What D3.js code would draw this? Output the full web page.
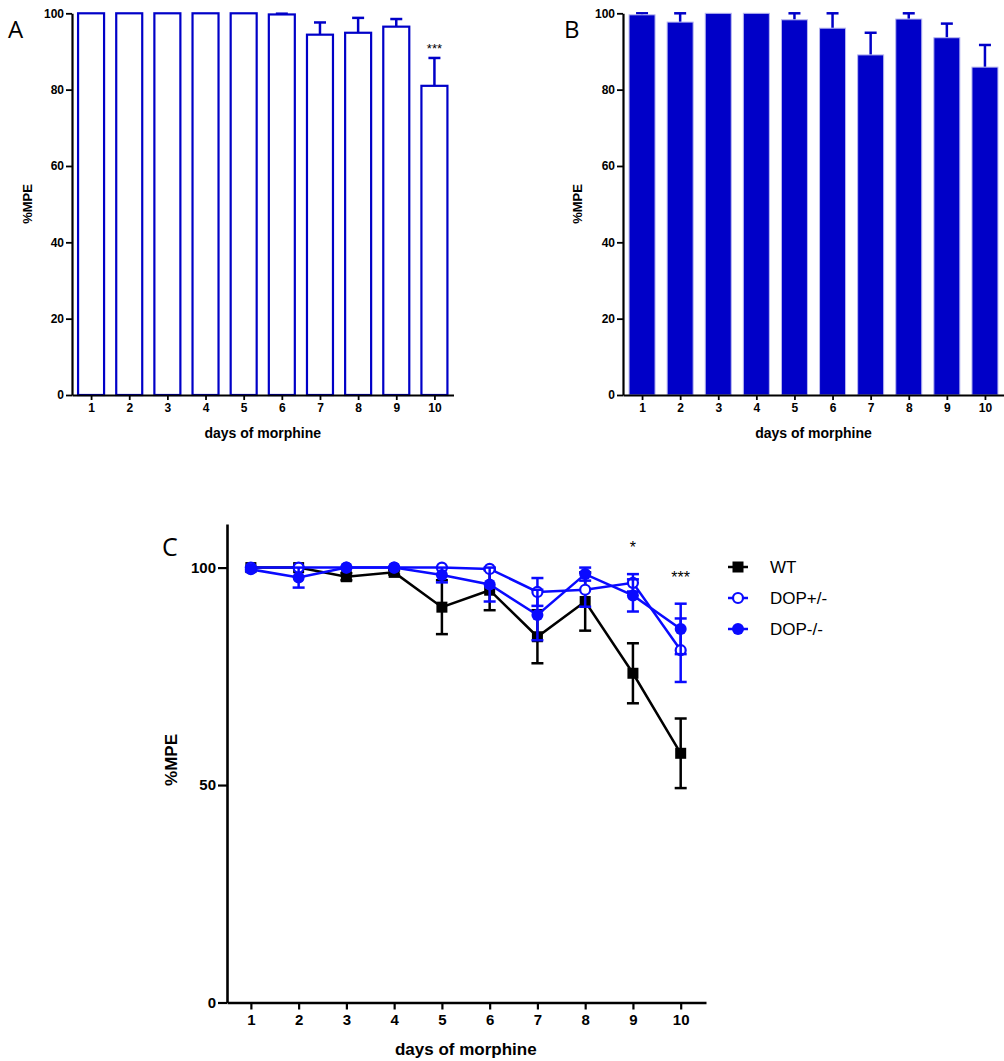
<!DOCTYPE html>
<meta charset="utf-8">

<script src="https://d3js.org/d3.v7.min.js"></script>

<style type="text/css">

body { margin:0; background:#fff; }
svg text { font-family: "Liberation Sans", Arial, sans-serif; }
.axis path, .axis line { stroke:#000; }
.axis text { font-weight:bold; fill:#000; }

</style>

<body>
</body>

<script>

// days and %MPE values (mean, SEM)
var days = [1,2,3,4,5,6,7,8,9,10];
var wtMean   = [100,100,97.9,98.9,90.9,94.8,84.1,92.2,75.7,57.3];
var wtSem    = [0,0,0.8,0.5,6.2,4.6,6.1,6.7,6.9,8.0];
var hetMean  = [100,100,100,100,100,99.7,94.4,94.9,96.5,81.0];   // DOP+/-
var hetSem   = [0,0,0,0,0,0.2,3.2,3.9,2.0,7.3];
var koMean   = [99.6,97.7,100,100,98.3,96.1,89.1,98.5,93.6,85.9]; // DOP-/-
var koSem    = [0.4,2.3,0,0,1.7,3.9,5.8,1.5,3.7,5.8];
var barTicks = [0,20,40,60,80,100];
var lineTicks = [0,50,100];

var barBlue = '#0000c8';
var lineBlue = '#0a0aff';

var svg = d3.select('body').append('svg')
  .attr('width',1004)
  .attr('height',1061);

function rows(mean, sem) {
  return days.map(function(d,i){ return {day:d, v:mean[i], e:sem[i]}; });
}

//bar panels A and B
function barPanel(x0, x1, mean, sem, filled, label, labelX, axisLabelX) {
  var x = d3.scaleLinear().domain([0.5,10.5]).range([x0,x1]);
  var y = d3.scaleLinear().domain([0,100]).range([395,13.3]);
  var g = svg.append('g');
  var data = rows(mean, sem);
  var bw = 26;

  // error bars (up only)
  var eb = g.selectAll('.eb').data(data.filter(function(d){return d.e>0;}))
    .enter().append('g');
  eb.append('line')
    .attr('x1',function(d){return x(d.day);}).attr('x2',function(d){return x(d.day);})
    .attr('y1',function(d){return y(d.v);}).attr('y2',function(d){return y(d.v+d.e);})
    .attr('stroke',barBlue).attr('stroke-width',2.5);
  eb.append('line')
    .attr('x1',function(d){return x(d.day)-6;}).attr('x2',function(d){return x(d.day)+6;})
    .attr('y1',function(d){return y(d.v+d.e);}).attr('y2',function(d){return y(d.v+d.e);})
    .attr('stroke',barBlue).attr('stroke-width',2.5);

  g.selectAll('.bar').data(data)
    .enter().append('rect')
    .attr('x',function(d){return x(d.day)-bw/2;})
    .attr('width',bw)
    .attr('y',function(d){return y(d.v);})
    .attr('height',function(d){return y(0)-y(d.v);})
    .attr('fill',filled ? barBlue : '#fff')
    .attr('stroke',filled ? '#b8b8f0' : barBlue)
    .attr('stroke-width',filled ? 1 : 2.2);

  g.append('g').attr('class','axis')
    .attr('transform','translate(0,395)')
    .call(d3.axisBottom(x).tickValues(days).tickSize(5).tickSizeOuter(0).tickPadding(3))
    .call(function(a){ a.selectAll('text').style('font-size','12px'); a.select('.domain').attr('stroke-width',2.2); a.selectAll('line').attr('stroke-width',1.8); });

  g.append('g').attr('class','axis')
    .attr('transform','translate('+x0+',0)')
    .call(d3.axisLeft(y).tickValues(barTicks).tickSize(6).tickSizeOuter(0).tickPadding(2))
    .call(function(a){ a.selectAll('text').style('font-size','12px'); a.select('.domain').attr('stroke-width',2.2); a.selectAll('line').attr('stroke-width',1.8); });

  g.append('text').text('days of morphine')
    .attr('x',(x(1)+x(10))/2).attr('y',438)
    .attr('text-anchor','middle').style('font-size','14px').style('font-weight','bold');

  g.append('text').text('%MPE')
    .attr('transform','translate('+(axisLabelX)+',204) rotate(-90)')
    .attr('text-anchor','middle').style('font-size','13px').style('font-weight','bold');

  g.append('text').text(label)
    .attr('x',labelX).attr('y',38).style('font-family','"Open Sans", sans-serif').style('font-size','24px');

  return {g:g, x:x, y:y};
}

var A = barPanel(72, 453.5, hetMean, hetSem, false, 'A', 8, 32);
A.g.append('text').text('***')
  .attr('x',A.x(10)).attr('y',A.y(89.5))
  .attr('text-anchor','middle').style('font-size','13px');

barPanel(623, 1004, koMean, koSem, true, 'B', 564, 582);

//line panel C
var xC = d3.scaleLinear().domain([0.5,10.53]).range([227,706]);
var yC = d3.scaleLinear().domain([0,110]).range([1002.5,524.1]);
var gC = svg.append('g');

gC.append('g').attr('class','axis')
  .attr('transform','translate(0,1002.5)')
  .call(d3.axisBottom(xC).tickValues(days).tickSize(7).tickSizeOuter(0).tickPadding(5))
  .call(function(a){ a.selectAll('text').style('font-size','15px'); a.select('.domain').attr('stroke-width',2.6); a.selectAll('line').attr('stroke-width',2.2); });

gC.append('g').attr('class','axis')
  .attr('transform','translate(227,0)')
  .call(d3.axisLeft(yC).tickValues(lineTicks).tickSize(9).tickSizeOuter(0).tickPadding(2))
  .call(function(a){ a.selectAll('text').style('font-size','15px'); a.select('.domain').attr('stroke-width',2.6); a.selectAll('line').attr('stroke-width',2.2); });

var series = [
  {name:'WT', data:rows(wtMean,wtSem), color:'#000', marker:'square'},
  {name:'DOP+/-', data:rows(hetMean,hetSem), color:lineBlue, marker:'open'},
  {name:'DOP-/-', data:rows(koMean,koSem), color:lineBlue, marker:'filled'}
];

var line = d3.line().x(function(d){return xC(d.day);}).y(function(d){return yC(d.v);});

function drawMarker(sel, s) {
  if (s.marker == 'square') {
    sel.append('rect').attr('x',-5.5).attr('y',-5.5).attr('width',11).attr('height',11).attr('fill','#000');
  } else if (s.marker == 'open') {
    sel.append('circle').attr('r',5).attr('fill','#fff').attr('stroke',s.color).attr('stroke-width',2.2);
  } else {
    sel.append('circle').attr('r',6).attr('fill',s.color);
  }
}

series.forEach(function(s) {
  var sg = gC.append('g');
  sg.append('path').datum(s.data)
    .attr('d',line).attr('fill','none').attr('stroke',s.color).attr('stroke-width',2.5);

  var eb = sg.selectAll('.err').data(s.data.filter(function(d){return d.e>0;}))
    .enter().append('g').attr('stroke',s.color).attr('stroke-width',2.5);
  eb.append('line')
    .attr('x1',function(d){return xC(d.day);}).attr('x2',function(d){return xC(d.day);})
    .attr('y1',function(d){return yC(d.v-d.e);}).attr('y2',function(d){return yC(d.v+d.e);});
  eb.append('line')
    .attr('x1',function(d){return xC(d.day)-6;}).attr('x2',function(d){return xC(d.day)+6;})
    .attr('y1',function(d){return yC(d.v+d.e);}).attr('y2',function(d){return yC(d.v+d.e);});
  eb.append('line')
    .attr('x1',function(d){return xC(d.day)-6;}).attr('x2',function(d){return xC(d.day)+6;})
    .attr('y1',function(d){return yC(d.v-d.e);}).attr('y2',function(d){return yC(d.v-d.e);});

  sg.selectAll('.pt').data(s.data)
    .enter().append('g')
    .attr('transform',function(d){return 'translate('+xC(d.day)+','+yC(d.v)+')';})
    .each(function(){ drawMarker(d3.select(this), s); });
});

// legend
series.forEach(function(s,i) {
  var ly = 567 + i*31;
  var lg = gC.append('g').attr('transform','translate(738,'+ly+')');
  lg.append('line').attr('x1',-10).attr('x2',10).attr('stroke',s.color).attr('stroke-width',2.5);
  drawMarker(lg, s);
  lg.append('text').text(s.name).attr('x',32).attr('y',6).style('font-size','17px');
});

// significance marks
gC.append('text').text('*').attr('x',xC(9)).attr('y',553)
  .attr('text-anchor','middle').style('font-size','16px');
gC.append('text').text('***').attr('x',xC(10)).attr('y',583)
  .attr('text-anchor','middle').style('font-size','16px');

gC.append('text').text('days of morphine')
  .attr('x',(xC(1)+xC(10))/2).attr('y',1055)
  .attr('text-anchor','middle').style('font-size','17px').style('font-weight','bold');

gC.append('text').text('%MPE')
  .attr('transform','translate(177,760) rotate(-90)')
  .attr('text-anchor','middle').style('font-size','17px').style('font-weight','bold');

gC.append('text').text('C')
  .attr('x',162).attr('y',556).style('font-family','"Open Sans", sans-serif').style('font-size','25px');

</script>
